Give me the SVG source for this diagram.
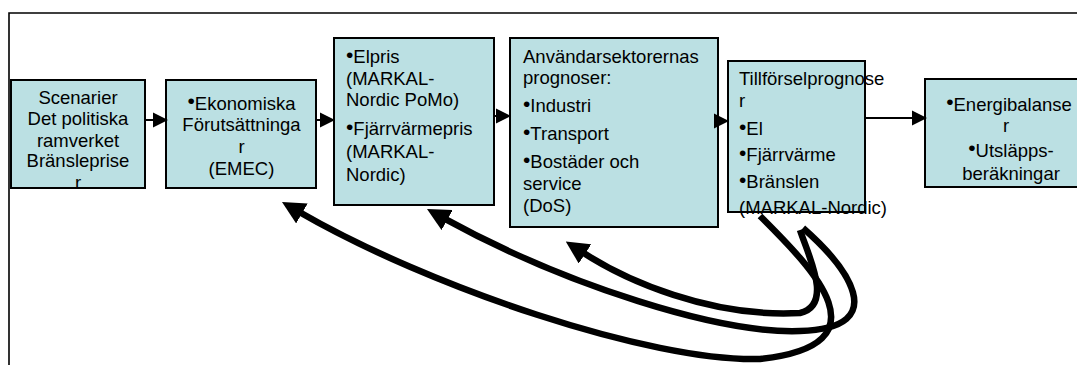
<svg xmlns="http://www.w3.org/2000/svg" xmlns:xlink="http://www.w3.org/1999/xlink" width="1077" height="365" viewBox="0 0 1077 365">
<style>
.box{fill:#BBE0E3;stroke:#000;stroke-width:2}
.t{font-family:"Liberation Sans",Arial,sans-serif;font-size:18.5px;fill:#000}
.b{font-size:21px}
.m{text-anchor:middle}
.frame{fill:none;stroke:#000;stroke-width:1.6}
.small{stroke:#000;stroke-width:2;fill:none}
.big{stroke:#000;stroke-width:6.5;fill:none;stroke-linecap:butt}
</style>
<defs>
<path id="tri" d="M-15,-7.5 L0,0 L-15,7.5 Z" fill="#000"/>
<marker id="bh" viewBox="0 0 23 23" refX="3" refY="11.5" markerWidth="23" markerHeight="23" markerUnits="userSpaceOnUse" orient="auto">
<path d="M0,0 L23,11.5 L0,23 Z" fill="#000"/>
</marker>
</defs>
<rect width="1077" height="365" fill="#fff"/>
<path class="frame" d="M9,365 L9,13 L1077,13"/>

<g id="n1">
<rect class="box" x="11" y="80" width="134" height="108"/>
<text class="t m" x="78" y="104">Scenarier</text>
<text class="t m" x="78" y="125">Det politiska</text>
<text class="t m" x="78" y="147">ramverket</text>
<text class="t m" x="78" y="167">Bränsleprise</text>
<text class="t m" x="78" y="189">r</text>
</g>

<g id="n2">
<rect class="box" x="166" y="80" width="150" height="108"/>
<text class="t m" x="241.5" y="110"><tspan class="b" dy="-2">•</tspan><tspan dy="2">Ekonomiska</tspan></text>
<text class="t m" x="241.5" y="131">Förutsättninga</text>
<text class="t m" x="241.5" y="153">r</text>
<text class="t m" x="241.5" y="175">(EMEC)</text>
</g>

<g id="n3">
<rect class="box" x="334" y="38" width="160" height="167"/>
<text class="t" x="346" y="63"><tspan class="b" dy="-1">•</tspan><tspan dy="1">Elpris</tspan></text>
<text class="t" x="346" y="85">(MARKAL-</text>
<text class="t" x="346" y="106">Nordic PoMo)</text>
<text class="t" x="346" y="135"><tspan class="b" dy="-1">•</tspan><tspan dy="1">Fjärrvärmepris</tspan></text>
<text class="t" x="346" y="158">(MARKAL-</text>
<text class="t" x="346" y="181">Nordic)</text>
</g>

<g id="n4">
<rect class="box" x="510" y="38" width="208" height="189"/>
<text class="t" x="523" y="63">Användarsektorernas</text>
<text class="t" x="523" y="84">prognoser:</text>
<text class="t" x="523" y="112"><tspan class="b" dy="-1">•</tspan><tspan dy="1">Industri</tspan></text>
<text class="t" x="523" y="140"><tspan class="b" dy="-1">•</tspan><tspan dy="1">Transport</tspan></text>
<text class="t" x="523" y="168"><tspan class="b" dy="-1">•</tspan><tspan dy="1">Bostäder och</tspan></text>
<text class="t" x="523" y="190">service</text>
<text class="t" x="523" y="212">(DoS)</text>
</g>

<g id="n5">
<rect class="box" x="728" y="61" width="137" height="151"/>
<text class="t" x="739" y="85">Tillförselprognose</text>
<text class="t" x="739" y="107">r</text>
<text class="t" x="739" y="135"><tspan class="b" dy="-1">•</tspan><tspan dy="1">El</tspan></text>
<text class="t" x="739" y="161"><tspan class="b" dy="-1">•</tspan><tspan dy="1">Fjärrvärme</tspan></text>
<text class="t" x="739" y="188"><tspan class="b" dy="-1">•</tspan><tspan dy="1">Bränslen</tspan></text>
<text class="t" x="739" y="214">(MARKAL-Nordic)</text>
</g>

<g id="n6">
<rect class="box" x="925" y="79" width="170" height="108"/>
<text class="t m" x="1009" y="111"><tspan class="b" dy="-2">•</tspan><tspan dy="2">Energibalanse</tspan></text>
<text class="t m" x="1006" y="132">r</text>
<text class="t m" x="1011" y="157"><tspan class="b" dy="-2">•</tspan><tspan dy="2">Utsläpps-</tspan></text>
<text class="t m" x="1011" y="180">beräkningar</text>
</g>

<g id="connectors">
<path class="small" d="M145,120 H158"/><use xlink:href="#tri" href="#tri" x="168" y="120"/>
<path class="small" d="M316,120 H326"/><use xlink:href="#tri" href="#tri" x="335" y="120"/>
<path class="small" d="M494,116 H502"/><use xlink:href="#tri" href="#tri" x="511" y="116"/>
<path class="small" d="M718,121 H720"/><use xlink:href="#tri" href="#tri" x="729" y="121"/>
<path class="small" d="M865,118 H916"/><use xlink:href="#tri" href="#tri" x="927" y="118"/>
<path class="big" d="M760,216 C812,268 890,345 760,359 C650,362 429,287 299.3,212" marker-end="url(#bh)"/>
<path class="big" d="M803,228 C845,265 895,328 800,331 C720,334 567,286 444.5,218.6" marker-end="url(#bh)"/>
<path class="big" d="M800,230 C808,255 834,305 800,313 C710,318 625,280 582.5,252.3" marker-end="url(#bh)"/>
</g>
</svg>
